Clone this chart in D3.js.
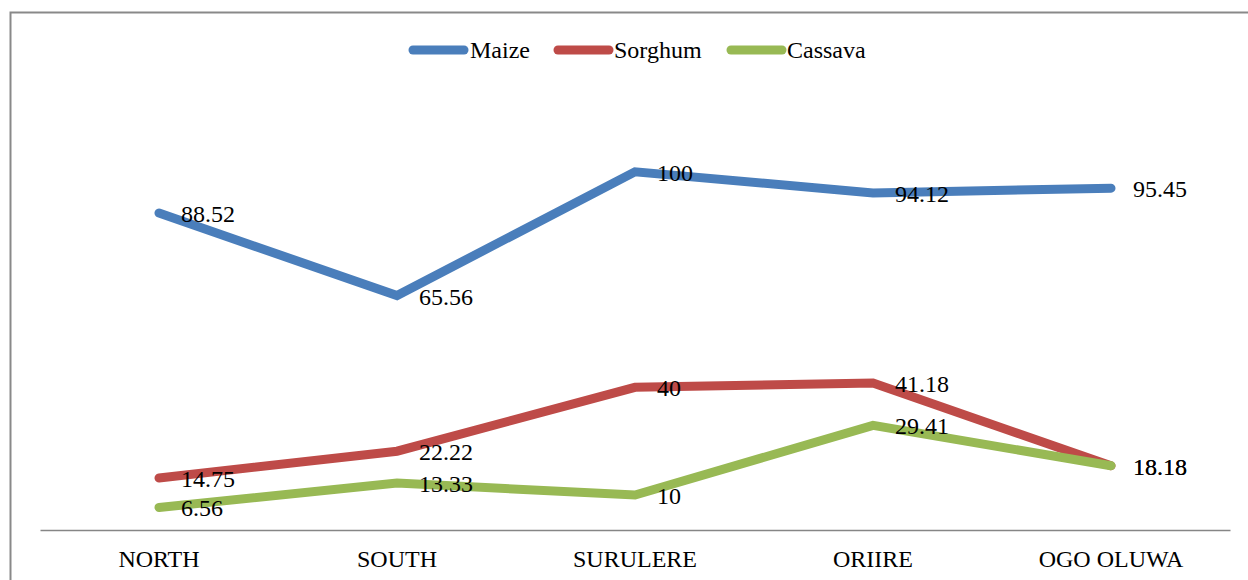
<!DOCTYPE html>
<html lang="en">
<head>
    <meta charset="UTF-8">
    <title>Crop line chart</title>
    <style>
        body { margin: 0; background: #fff; }
    </style>
</head>
<body>
    <div id="chart"></div>
    <script src="https://d3js.org/d3.v7.min.js"></script>
    <script>
        const categories = ["NORTH", "SOUTH", "SURULERE", "ORIIRE", "OGO OLUWA"];
        const maize = [88.52, 65.56, 100, 94.12, 95.45];
        const sorghum = [14.75, 22.22, 40, 41.18, 18.18];
        const cassava = [6.56, 13.33, 10, 29.41, 18.18];
        const seriesNames = ["Maize", "Sorghum", "Cassava"];
        const seriesColors = ["#4a7ebb", "#be4b48", "#98b954"];

        const width = 1248;
        const height = 580;
        const serif = "'Liberation Serif', 'Times New Roman', serif";
        const fontSize = "24px";

        const series = [maize, sorghum, cassava].map((vals, i) => ({
            name: seriesNames[i],
            color: seriesColors[i],
            values: vals.map((v, j) => ({cat: categories[j], v}))
        }));

        const svg = d3.select("#chart").append("svg")
            .attr("width", width)
            .attr("height", height);

        // outer frame (only top and left are visible)
        svg.append("path")
            .attr("d", `M10.5,${height + 5} V12.5 H${width + 5}`)
            .attr("fill", "none")
            .attr("stroke", "#898989")
            .attr("stroke-width", 2);

        const x = d3.scaleBand()
            .domain(categories)
            .range([40, 1230]);

        const y = d3.scaleLinear()
            .domain([0, 120])
            .range([531, 100]);

        const cx = d => x(d) + x.bandwidth() / 2;

        // category axis
        const xAxis = svg.append("g")
            .attr("transform", `translate(0,${y(0) - 1})`)
            .call(d3.axisBottom(x).tickSize(0).tickPadding(0));
        xAxis.select(".domain")
            .attr("stroke", "#868686")
            .attr("stroke-width", 1.5);
        xAxis.selectAll("text")
            .attr("y", 37)
            .attr("dy", 0)
            .style("font-family", serif)
            .style("font-size", fontSize)
            .attr("fill", "#000");

        const line = d3.line()
            .x(d => cx(d.cat))
            .y(d => y(d.v));

        svg.append("g")
            .selectAll("path")
            .data(series)
            .join("path")
            .attr("d", d => line(d.values))
            .attr("fill", "none")
            .attr("stroke", d => d.color)
            .attr("stroke-width", 9)
            .attr("stroke-linecap", "round")
            .attr("stroke-linejoin", "miter");

        // data labels
        const labels = svg.append("g");
        series.forEach(s => {
            labels.selectAll(null)
                .data(s.values)
                .join("text")
                .attr("x", d => cx(d.cat) + 22)
                .attr("y", d => y(d.v) + 9)
                .style("font-family", serif)
                .style("font-size", fontSize)
                .attr("fill", "#000")
                .text(d => d.v);
        });

        // legend
        const legendItems = [
            {x0: 413, x1: 464, tx: 470},
            {x0: 558, x1: 609, tx: 614},
            {x0: 731, x1: 782, tx: 787}
        ];
        const legend = svg.append("g");
        legend.selectAll("line")
            .data(series)
            .join("line")
            .attr("x1", (d, i) => legendItems[i].x0)
            .attr("x2", (d, i) => legendItems[i].x1)
            .attr("y1", 50)
            .attr("y2", 50)
            .attr("stroke", d => d.color)
            .attr("stroke-width", 9)
            .attr("stroke-linecap", "round");
        legend.selectAll("text")
            .data(series)
            .join("text")
            .attr("x", (d, i) => legendItems[i].tx)
            .attr("y", 58)
            .style("font-family", serif)
            .style("font-size", fontSize)
            .attr("fill", "#000")
            .text(d => d.name);
    </script>
</body>
</html>
